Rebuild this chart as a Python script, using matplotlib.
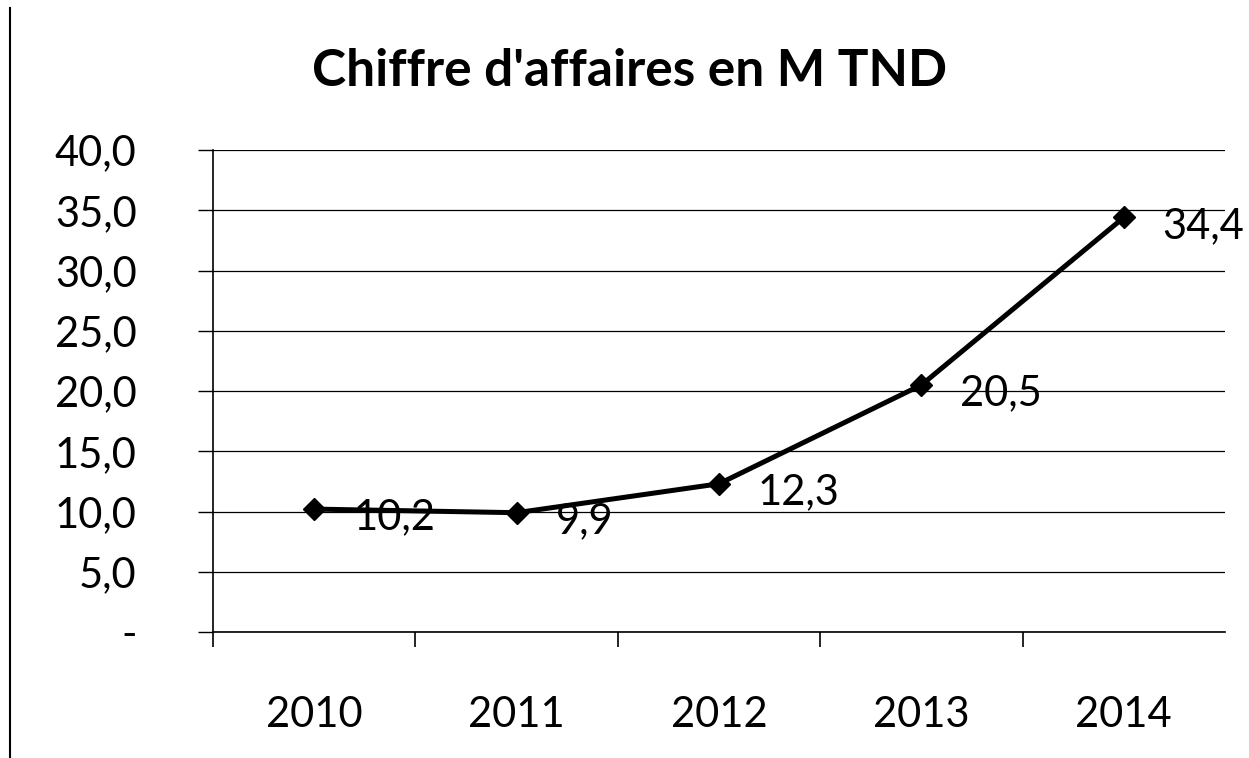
import matplotlib
matplotlib.use("Agg")
import matplotlib.pyplot as plt
from matplotlib.lines import Line2D

years = ["2010", "2011", "2012", "2013", "2014"]
values = [10.2, 9.9, 12.3, 20.5, 34.4]
value_labels = ["10,2", "9,9", "12,3", "20,5", "34,4"]
yticks = [0, 5, 10, 15, 20, 25, 30, 35, 40]
ytick_labels = ["-", "5,0", "10,0", "15,0", "20,0", "25,0", "30,0", "35,0", "40,0"]
title = "Chiffre d'affaires en M TND"

plt.rcParams['font.family'] = ['Lato', 'DejaVu Sans']

fig = plt.figure(figsize=(12.49, 7.58), dpi=100)
ax = fig.add_axes([213/1249, 1-632/758, (1225-213)/1249, (632-150)/758])

x = list(range(len(years)))
ax.plot(x, values, color='black', lw=3.6, marker='D', ms=11, mfc='black', mec='black', zorder=3)
for xi, v, lab in zip(x, values, value_labels):
    ax.annotate(lab, (xi, v), xytext=(28, -6), textcoords='offset points',
                ha='left', va='center', fontsize=30, color='black')

ax.set_xlim(-0.5, len(years) - 0.5)
ax.set_ylim(0, 40)
ax.set_yticks(yticks)
ax.set_yticklabels(ytick_labels)
ax.set_xticks(x)
ax.set_xticklabels(years)
ax.set_xticks([i + 0.5 for i in range(len(years) - 1)] + [-0.5], minor=True)
ax.tick_params(axis='x', which='major', length=0, pad=46, labelsize=30)
ax.tick_params(axis='x', which='minor', length=11, width=1.2, direction='out')
ax.tick_params(axis='y', which='major', length=11, width=1, pad=44, labelsize=30)

ax.grid(axis='y', color='black', lw=0.9)
for s in ['top', 'right']:
    ax.spines[s].set_visible(False)
ax.spines['left'].set_linewidth(1.2)
ax.spines['bottom'].set_linewidth(1.2)
ax.set_axisbelow(True)

fig.text(630/1249, 1-72/758, title, ha='center', va='center', fontsize=37, fontweight='bold')

fig.add_artist(Line2D([10/1249, 10/1249], [0, 1-8/758], transform=fig.transFigure, color='black', lw=1.5))

fig.savefig("out.png", dpi=100)
